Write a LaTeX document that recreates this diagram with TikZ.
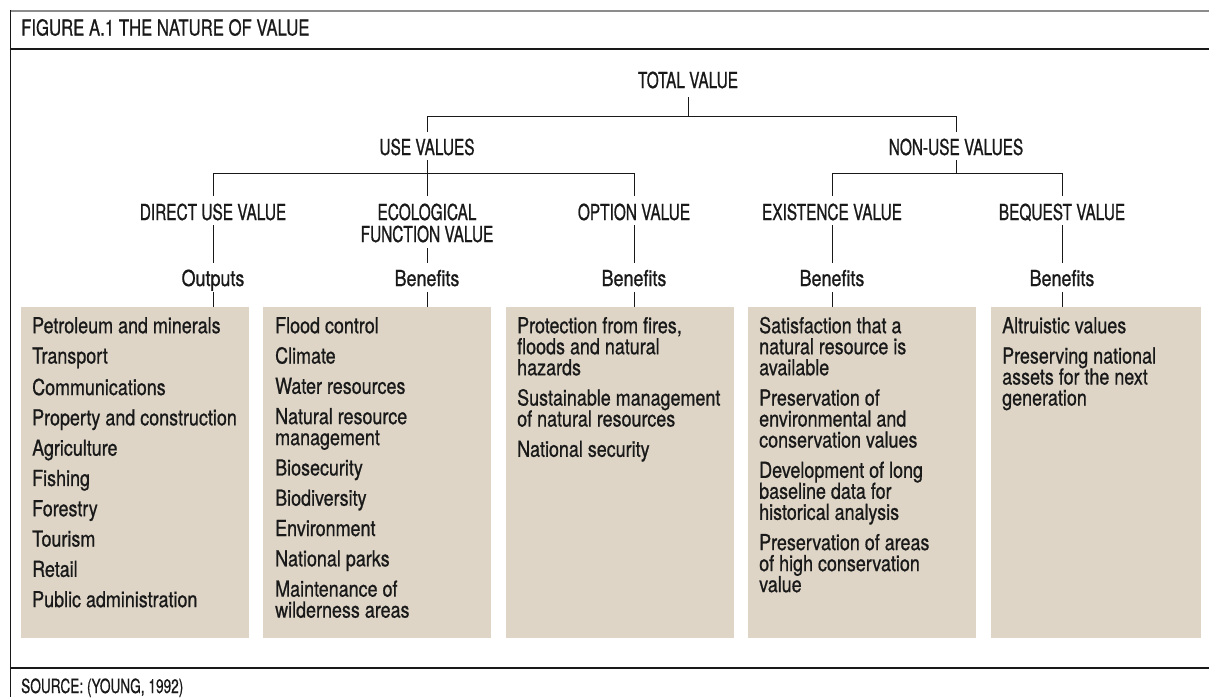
\documentclass[tikz,border=0pt]{standalone}
\usepackage{fontspec}
\setmainfont{TeX Gyre Heros}[FakeStretch=0.815, FakeBold=0.8]
\newfontfamily\capsf{TeX Gyre Heros}[FakeStretch=0.70, FakeBold=0.8]
\newfontfamily\headf{TeX Gyre Heros}[FakeStretch=0.76, FakeBold=0.6]
\newfontfamily\footf{TeX Gyre Heros}[FakeStretch=0.70, FakeBold=0.6]
\definecolor{boxfill}{RGB}{222,213,199}
\definecolor{ink}{RGB}{25,25,25}
\begin{document}
\begin{tikzpicture}[x=1pt,y=-1pt,
  capl/.style={font=\capsf\fontsize{22}{22}\selectfont, text=ink, inner xsep=0pt, text depth=0pt},
  lvl3/.style={capl, anchor=base, text height=19pt, inner ysep=5pt},
  lvl2/.style={capl, anchor=base, text height=18pt, inner ysep=5pt},
  benl/.style={font=\fontsize{22}{22}\selectfont, text=ink, anchor=base, inner xsep=0pt, text depth=0pt, text height=17pt, inner ysep=6pt},
  valbox/.style={fill=boxfill, draw=none, anchor=north west, minimum width=228pt, minimum height=331pt, inner sep=0pt},
  boxtext/.style={font=\fontsize{22}{21}\selectfont, text=ink, anchor=north west, align=left, inner sep=0pt},
  conn/.style={draw=ink, line width=0.9pt}
]
\useasboundingbox (0,0) rectangle (1209,697);
\fill[white] (0,0) rectangle (1209,697);

% frame
\draw[draw=black!45, line width=2pt] (10,11) -- (1209,11);
\draw[draw=ink, line width=1pt] (10.5,10) -- (10.5,697);
\draw[draw=ink, line width=1.3pt] (10,49) -- (1209,49);
\draw[draw=ink, line width=1.6pt] (10,668) -- (1209,668);

\node[font=\headf\fontsize{22}{22}\selectfont, text=ink, anchor=base west, inner sep=0pt] (title) at (21,35.5) {FIGURE A.1 THE NATURE OF VALUE};
\node[font=\footf\fontsize{19.5}{20}\selectfont, text=ink, anchor=base west, inner sep=0pt] (source) at (21,693) {SOURCE: (YOUNG, 1992)};

% tree labels
\node[capl, anchor=base, text height=15pt, inner ysep=9pt] (total) at (688,88) {TOTAL VALUE};
\node[lvl2] (use) at (427,155) {USE VALUES};
\node[lvl2] (nonuse) at (956,155) {NON-USE VALUES};
\node[lvl3] (dir) at (213,220) {DIRECT USE VALUE};
\node[lvl3] (eco) at (427,220) {ECOLOGICAL};
\node[capl, anchor=base, text height=15pt, inner ysep=6pt] (eco2) at (427,242) {FUNCTION VALUE};
\node[lvl3] (opt) at (634,220) {OPTION VALUE};
\node[lvl3] (exi) at (832,220) {EXISTENCE VALUE};
\node[lvl3] (beq) at (1062,220) {BEQUEST VALUE};
\node[benl] (o1) at (213,286) {Outputs};
\node[benl] (o2) at (427,286) {Benefits};
\node[benl] (o3) at (634,286) {Benefits};
\node[benl] (o4) at (832,286) {Benefits};
\node[benl] (o5) at (1062,286) {Benefits};

% boxes
\node[valbox] (b1) at (21,307) {};
\node[valbox] (b2) at (263,307) {};
\node[valbox] (b3) at (506,307) {};
\node[valbox] (b4) at (748,307) {};
\node[valbox, minimum width=210pt] (b5) at (991,307) {};

\node[boxtext] (t1) at ([shift={(11,9)}]b1.north west) {\rule{0pt}{17pt}Petroleum and minerals\\[9.3pt]
Transport\\[9.3pt]
Communications\\[9.3pt]
Property and construction\\[9.3pt]
Agriculture\\[9.3pt]
Fishing\\[9.3pt]
Forestry\\[9.3pt]
Tourism\\[9.3pt]
Retail\\[9.3pt]
Public administration};

\node[boxtext] (t2) at ([shift={(12,9)}]b2.north west) {\rule{0pt}{17pt}Flood control\\[9.3pt]
Climate\\[9.3pt]
Water resources\\[9.3pt]
Natural resource\\management\\[9.3pt]
Biosecurity\\[9.3pt]
Biodiversity\\[9.3pt]
Environment\\[9.3pt]
National parks\\[9.3pt]
Maintenance of\\wilderness areas};

\node[boxtext] (t3) at ([shift={(11,9)}]b3.north west) {\rule{0pt}{17pt}Protection from fires,\\floods and natural\\hazards\\[9.3pt]
Sustainable management\\of natural resources\\[9.3pt]
National security};

\node[boxtext] (t4) at ([shift={(11,9)}]b4.north west) {\rule{0pt}{17pt}Satisfaction that a\\natural resource is\\available\\[9.3pt]
Preservation of\\environmental and\\conservation values\\[9.3pt]
Development of long\\baseline data for\\historical analysis\\[9.3pt]
Preservation of areas\\of high conservation\\value};

\node[boxtext] (t5) at ([shift={(11,9)}]b5.north west) {\rule{0pt}{17pt}Altruistic values\\[9.3pt]
Preserving national\\assets for the next\\generation};

% connectors
\draw[conn] (total.south) -- ++(0,20);
\draw[conn] (use.north) -- ++(0,-15) -| (nonuse.north);
\draw[conn] (use.south) -- (eco.north);
\draw[conn] (dir.north) -- ++(0,-22) -| (opt.north);
\draw[conn] (nonuse.south) -- ++(0,14);
\draw[conn] (exi.north) -- ++(0,-22) -| (beq.north);
\draw[conn] (dir.south) -- (o1.north);
\draw[conn] (eco2.south) -- (o2.north);
\draw[conn] (opt.south) -- (o3.north);
\draw[conn] (exi.south) -- (o4.north);
\draw[conn] (beq.south) -- (o5.north);
\draw[conn] (o1.south) -- (o1.south |- b1.north);
\draw[conn] (o2.south) -- (o2.south |- b2.north);
\draw[conn] (o3.south) -- (o3.south |- b3.north);
\draw[conn] (o4.south) -- (o4.south |- b4.north);
\draw[conn] (o5.south) -- (o5.south |- b5.north);
\end{tikzpicture}
\end{document}
